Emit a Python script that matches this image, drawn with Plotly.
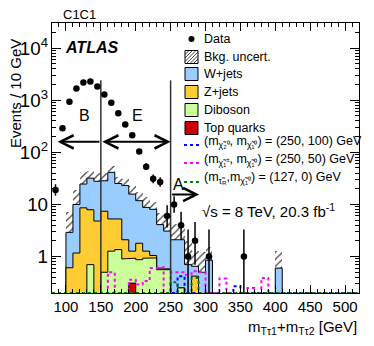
import plotly.graph_objects as go

# ---- binning (GeV) ----
bin_width = 10
bkg_start = 100      # first edge of background histograms
sig_start = 80       # first edge of signal histograms
data_start = 80      # first edge of data histogram

# ---- background components, bins 100-110 ... 400-410 ----
w_jets = [2.3, 8.8, 16, 24, 23, 21, 36, 20, 21, 14.5, 10, 7.5, 7, 3.5, 2.5, 2.1, 1.85, 0.7, 0.23, 0.5, 0.85,
          0, 0, 0, 0, 0, 0, 0, 0, 0, 0.6]
z_jets = [0.61, 1.17, 8.6, 7.2, 4.8, 6.9, 4.0, 3.9, 1.2, 0.34, 0.93, 0.34, 0.11, 0.04, 0.02, 0, 0, 0, 0.42, 0, 0,
          0, 0, 0, 0, 0, 0, 0, 0, 0, 0]
diboson = [0, 0, 0, 0.7, 0, 0.5, 1.27, 1.36, 0.9, 0.62, 0.87, 0.93, 0.94, 0.56, 0.56, 0, 0.25, 0, 0, 0, 0,
           0, 0, 0, 0, 0, 0, 0, 0, 0, 0]
top_quarks = [0, 0, 0, 0, 0, 0, 0, 0, 0, 0.31, 0, 0, 0, 0, 0, 0, 0, 0, 0, 0, 0,
              0, 0, 0, 0, 0, 0, 0, 0, 0, 0]
bkg_unc_up = [4.1, 9, 17, 12, 12, 11.6, 14, 8.7, 8, 7, 5.2, 5.2, 3, 2.9, 2.4, 2.1, 1.5, 1.3, 0.65, 0.7, 0.65,
              0, 0, 0, 0, 0, 0, 0, 0, 0, 0.67]
bkg_unc_dn = [2.91, 7, 10, 10, 9, 9.4, 11, 7.3, 8, 5.8, 4.8, 3.8, 4, 2.1, 1.9, 1.3, 1.3, 0.4, 0.45, 0.4, 0.85,
              0, 0, 0, 0, 0, 0, 0, 0, 0, 0.6]

# ---- signal points, bins 80-90 ... 510-520 ----
sig_250_100 = [0, 0, 0, 0, 0, 0, 0, 0, 0, 0, 0, 0, 0, 0, 0, 0, 0, 0, 0.42, 0, 0, 0,
               0, 0, 0, 0, 0.27, 0, 0, 0, 0, 0, 0, 0, 0, 0, 0, 0, 0, 0, 0, 0, 0, 0]
sig_250_50 = [0, 0, 0, 0, 0, 0, 0, 0, 0.5, 0, 0, 0.36, 0.29, 0.34, 0.6, 0.62, 0, 0.5, 0.5, 0.45, 0.52, 0.5,
              0, 0, 0.38, 0, 0, 0, 0.25, 0, 0.39, 0, 0, 0, 0, 0, 0, 0, 0, 0, 0, 0, 0, 0]
sig_127_0 = [0, 0, 0, 0, 0, 0, 0, 0, 0, 0, 0, 0, 0, 0, 0, 0, 0, 0.32, 0, 0, 0.39, 0,
             0, 0, 0, 0, 0, 0, 0, 0, 0, 0, 0, 0, 0, 0, 0, 0, 0, 0, 0, 0, 0, 0]

# ---- data, bins 80-90 ... 350-360 ----
data_counts = [19, 290, 930, 1670, 2180, 2280, 1820, 1290, 890, 560, 340, 212, 104, 53, 31, 27, 6, 10, 4, 1,
               2, 0, 1, 0, 0, 0, 0, 1]
data_err_up = [5.4, 18, 31, 41, 47, 48, 43, 37, 31, 25, 19, 15.6, 11, 8.3, 6.6, 6.3, 3.6, 4.3, 3.2, 2.3,
               2.6, 0, 2.3, 0, 0, 0, 0, 2.3]
data_err_dn = [4.3, 17, 30, 41, 47, 48, 43, 36, 30, 24, 18, 14.6, 10, 7.3, 5.5, 5.2, 2.4, 3.1, 1.9, 0.83,
               1.3, 0, 0.83, 0, 0, 0, 0, 0.83]

region_edges = [150, 250]
region_top = 2400

legend_labels = ["Data", "Bkg. uncert.", "W+jets", "Z+jets", "Diboson", "Top quarks"]
signal_labels = ["(m<sub>χ̃₂⁰</sub>, m<sub>χ̃₁⁰</sub>) = (250, 100) GeV",
                 "(m<sub>χ̃₁<sup>±</sup></sub>, m<sub>χ̃₁⁰</sub>) = (250, 50) GeV",
                 "(m<sub>τ̃<sub>R</sub></sub>,m<sub>χ̃₁⁰</sub>) = (127, 0) GeV"]

C_W, C_Z, C_VV, C_TOP = "#99ccff", "#ffcc33", "#ccff99", "#cc0000"
C_SIG = ["#0000ff", "#ff00ff", "#008000"]
HATCH = "#444444"

y_log_range = [-0.699, 4.48]
FONT = "Liberation Sans, Arial, sans-serif"

# the page body has an 8px margin, so the figure is shrunk by that much
OFF = 8
W, H = 374 - OFF, 346 - OFF
M_L, M_R, M_T, M_B = 52 - OFF, 15, 23 - OFF, 53
PW, PH = W - M_L - M_R, H - M_T - M_B


# window pixel -> paper coords
def px(x):
    return (x - OFF - M_L) / PW


def py(y):
    return (H - M_B - (y - OFF)) / PH


def edges_from(start, n):
    return [start + bin_width * i for i in range(n + 1)]


def step_path(edges, vals, floor):
    xs, ys = [edges[0]], [floor]
    for i, v in enumerate(vals):
        v = v if v > 0 else floor
        xs += [edges[i], edges[i + 1]]
        ys += [v, v]
    xs.append(edges[-1])
    ys.append(floor)
    return xs, ys


nb = len(w_jets)
bkg_edges = edges_from(bkg_start, nb)
bkg_centers = [e + bin_width / 2 for e in bkg_edges[:-1]]

cum_top = list(top_quarks)
cum_dib = [a + b for a, b in zip(cum_top, diboson)]
cum_z = [a + b for a, b in zip(cum_dib, z_jets)]
cum_w = [a + b for a, b in zip(cum_z, w_jets)]

fig = go.Figure()

for vals, col in [(cum_w, C_W), (cum_z, C_Z), (cum_dib, C_VV), (cum_top, C_TOP)]:
    xs, ys = step_path(bkg_edges, vals, 1e-3)
    fig.add_trace(go.Scatter(x=xs, y=ys, mode="lines", fill="toself", fillcolor=col,
                             line=dict(color="black", width=1), hoverinfo="skip"))

# uncertainty band
band_lo, band_h = [], []
for t, up, dn in zip(cum_w, bkg_unc_up, bkg_unc_dn):
    if t <= 0:
        band_lo.append(None)
        band_h.append(None)
        continue
    lo = t - dn if t - dn > 0 else 1e-3
    band_lo.append(lo)
    band_h.append(t + up - lo)
fig.add_trace(go.Bar(x=bkg_centers, y=band_h, base=band_lo, width=bin_width,
                     marker=dict(color=HATCH, line=dict(width=0),
                                 pattern=dict(shape="/", size=5, solidity=0.25, fillmode="replace")),
                     hoverinfo="skip"))

# signals
y_floor = 10 ** y_log_range[0]
sig_edges = edges_from(sig_start, len(sig_250_50))
for vals, col in zip([sig_250_100, sig_250_50, sig_127_0], C_SIG):
    xs, ys = step_path(sig_edges, vals, y_floor)
    fig.add_trace(go.Scatter(x=xs, y=ys, mode="lines", line=dict(color=col, width=2, dash="dot"),
                             hoverinfo="skip"))

# region boundaries
for xe in region_edges:
    fig.add_trace(go.Scatter(x=[xe, xe], y=[y_floor, region_top], mode="lines",
                             line=dict(color="#333333", width=1.5), hoverinfo="skip"))

# data
data_centers = [data_start + bin_width * i + bin_width / 2 for i in range(len(data_counts))]
fig.add_trace(go.Scatter(
    x=data_centers, y=[c if c > 0 else None for c in data_counts], mode="markers",
    marker=dict(color="black", size=6.5),
    error_y=dict(type="data", symmetric=False, array=data_err_up, arrayminus=data_err_dn,
                 color="black", thickness=1.5, width=0)))

# ---- hand-made legend ----
shapes = []
annotations = []
box_x0, box_x1 = 185, 198
text_x = 202
row_y = [39, 57, 74, 92, 110, 128]
for lab, yc in zip(legend_labels, row_y):
    annotations.append(dict(text=lab, x=px(text_x), y=py(yc), xref="paper", yref="paper",
                            xanchor="left", yanchor="middle", showarrow=False, font=dict(size=12.5)))
# data dot
shapes.append(dict(type="circle", xref="paper", yref="paper", x0=px(188.5), x1=px(194.5),
                   y0=py(42), y1=py(36), fillcolor="black", line=dict(width=0)))
# filled boxes
for yc, col in zip(row_y[2:], [C_W, C_Z, C_VV, C_TOP]):
    shapes.append(dict(type="rect", xref="paper", yref="paper", x0=px(box_x0), x1=px(box_x1),
                       y0=py(yc + 6.5), y1=py(yc - 6.5), fillcolor=col, line=dict(color="black", width=1)))
# hatched box
hy0, hy1 = row_y[1] - 6.5, row_y[1] + 6.5
hh = hy1 - hy0
for c in [-9, -5.5, -2, 1.5, 5, 8.5, 12]:
    xa, ya = box_x0 + c, hy1
    xb, yb = box_x0 + c + hh, hy0
    if xa < box_x0:
        ya -= (box_x0 - xa)
        xa = box_x0
    if xb > box_x1:
        yb += (xb - box_x1)
        xb = box_x1
    if xb <= xa:
        continue
    shapes.append(dict(type="line", xref="paper", yref="paper", x0=px(xa), y0=py(ya), x1=px(xb), y1=py(yb),
                       line=dict(color=HATCH, width=1)))
shapes.append(dict(type="rect", xref="paper", yref="paper", x0=px(box_x0), x1=px(box_x1),
                   y0=py(hy1), y1=py(hy0), line=dict(color="black", width=1)))
# signal lines
for lab, col, yl, yt in zip(signal_labels, C_SIG, [145, 163, 182], [142, 160, 178]):
    shapes.append(dict(type="line", xref="paper", yref="paper", x0=px(184), x1=px(200), y0=py(yl), y1=py(yl),
                       line=dict(color=col, width=2, dash="dot")))
    annotations.append(dict(text=lab, x=px(text_x), y=py(yt), xref="paper", yref="paper",
                            xanchor="left", yanchor="middle", showarrow=False, font=dict(size=12.5)))

annotations += [
    dict(text="C1C1", x=px(62), y=py(15), xref="paper", yref="paper", xanchor="left", yanchor="middle",
         showarrow=False, borderpad=0, font=dict(size=13)),
    dict(text="<b><i>ATLAS</i></b>", x=px(63), y=py(48), xref="paper", yref="paper", xanchor="left",
         yanchor="middle", showarrow=False, font=dict(size=16)),
    dict(text="√s = 8 TeV, 20.3 fb<sup>-1</sup>", x=px(200), y=py(210), xref="paper", yref="paper",
         xanchor="left", yanchor="middle", showarrow=False, font=dict(size=15)),
    dict(text="m<sub>Tτ1</sub>+m<sub>Tτ2</sub> [GeV]", x=1.0, y=py(327), xref="paper", yref="paper",
         xanchor="right", yanchor="middle", showarrow=False, font=dict(size=15)),
    dict(text="Events / 10 GeV", textangle=-90, x=px(15), y=py(94), xref="paper", yref="paper",
         xanchor="center", yanchor="middle", showarrow=False, font=dict(size=15)),
    dict(text="B", x=127, y=2.7, xref="x", yref="y", showarrow=False, font=dict(size=16)),
    dict(text="E", x=202, y=2.7, xref="x", yref="y", showarrow=False, font=dict(size=16)),
    dict(text="A", x=261, y=1.385, xref="x", yref="y", showarrow=False, font=dict(size=16)),
    # arrows (y in log10 units)
    dict(text="", x=88, y=2.2, ax=150, ay=2.2, xref="x", yref="y", axref="x", ayref="y",
         showarrow=True, arrowhead=5, arrowsize=1.3, arrowwidth=2, arrowcolor="black", standoff=0),
    dict(text="", x=250, y=2.2, ax=150, ay=2.2, xref="x", yref="y", axref="x", ayref="y",
         showarrow=True, arrowhead=5, startarrowhead=5, arrowside="end+start", arrowsize=1.3,
         startarrowsize=1.3, arrowwidth=2, arrowcolor="black", standoff=0, startstandoff=0),
    dict(text="", x=291, y=1.19, ax=250, ay=1.19, xref="x", yref="y", axref="x", ayref="y",
         showarrow=True, arrowhead=5, arrowsize=1.3, arrowwidth=2, arrowcolor="black", standoff=0),
]

fig.update_layout(
    width=W, height=H,
    margin=dict(l=M_L, r=M_R, t=M_T, b=M_B),
    paper_bgcolor="white", plot_bgcolor="white",
    font=dict(family=FONT, color="black", size=15),
    barmode="overlay", bargap=0,
    showlegend=False,
    annotations=annotations,
    shapes=shapes,
)
fig.update_xaxes(range=[80, 520], tick0=0, dtick=50, ticks="inside", ticklen=8, tickcolor="black",
                 showline=True, linecolor="black", linewidth=1, mirror="allticks", showgrid=False,
                 zeroline=False, tickfont=dict(size=15),
                 minor=dict(dtick=10, ticks="inside", ticklen=4, tickcolor="black", showgrid=False))
fig.update_yaxes(type="log", range=y_log_range, dtick=1, exponentformat="power", ticks="inside",
                 ticklen=9, tickcolor="black", showline=True, linecolor="black", linewidth=1,
                 mirror="allticks", showgrid=False, zeroline=False, tickfont=dict(size=15),
                 minor=dict(dtick="D1", ticks="inside", ticklen=4, tickcolor="black", showgrid=False))

fig.write_html("out.html")
